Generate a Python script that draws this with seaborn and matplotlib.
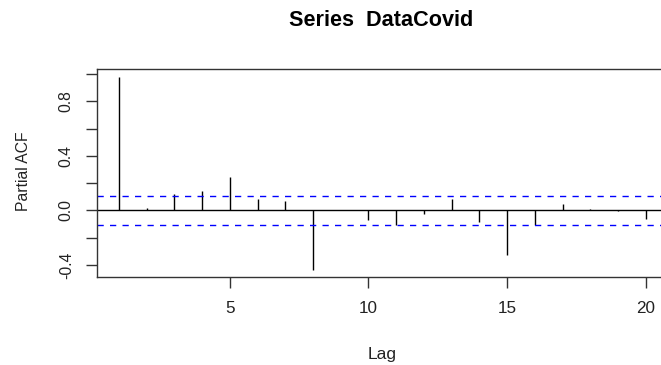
import numpy as np
import pandas as pd
import matplotlib
matplotlib.use("Agg")
import matplotlib.pyplot as plt
import seaborn as sns

# Data
lags = [1, 2, 3, 4, 5, 6, 7, 8, 9, 10, 11, 12, 13, 14, 15, 16, 17, 18, 19, 20]
pacf_vals = [0.974, 0.02, 0.12, 0.144, 0.244, 0.085, 0.068, -0.435, 0.004, -0.07,
             -0.104, -0.026, 0.085, -0.087, -0.33, -0.107, 0.047, 0.012, -0.004, -0.06]
conf_limit = 0.105
x_ticks = [5, 10, 15, 20]
y_ticks = [-0.4, -0.2, 0.0, 0.2, 0.4, 0.6, 0.8, 1.0]
y_tick_labels = ["-0.4", "", "0.0", "", "0.4", "", "0.8", ""]
title = "Series  DataCovid"
x_label = "Lag"
y_label = "Partial ACF"

df = pd.DataFrame({"lag": lags, "pacf": pacf_vals})

sns.set_theme(style="white")
plt.rcParams["font.family"] = ["Liberation Sans", "DejaVu Sans"]

W, H = 661, 365
fig = plt.figure(figsize=(W / 100, H / 100), dpi=100)
left, right, top, bottom = 96.7, 668.0, 69.3, 277.3
ax = fig.add_axes([left / W, (H - bottom) / H, (right - left) / W, (bottom - top) / H])

ax.vlines(df["lag"], 0, df["pacf"], color="black", linewidth=1.0)
ax.axhline(0, color="black", linewidth=1.0)
for c in (conf_limit, -conf_limit):
    ax.axhline(c, color="blue", linewidth=1.0, linestyle=(0, (4.5, 4.5)))

ax.set_xlim(0.2, 20.8)
ax.set_ylim(-0.49, 1.034)

ax.set_xticks(x_ticks)
ax.set_xticklabels([str(t) for t in x_ticks], fontsize=12.3, color="#222222")
ax.set_yticks(y_ticks)
ax.set_yticklabels(y_tick_labels, fontsize=11.3, color="#222222", rotation=90, va="center")
ax.tick_params(axis="both", which="both", direction="out", length=8, width=1.0,
               color="#333333", bottom=True, left=True)
ax.tick_params(axis="x", pad=9)
ax.tick_params(axis="y", pad=8.5)

for s in ax.spines.values():
    s.set_color("#333333")
    s.set_linewidth(1.0)

fig.text(381 / W, 1 - 20.7 / H, title, ha="center", va="center",
         fontsize=15.6, fontweight="bold", color="black")
fig.text(382 / W, 1 - 354 / H, x_label, ha="center", va="center",
         fontsize=12.5, color="#222222")
fig.text(23.5 / W, 1 - 171 / H, y_label, ha="center", va="center",
         fontsize=11.3, color="#222222", rotation=90)

fig.savefig("out.png", dpi=100)
